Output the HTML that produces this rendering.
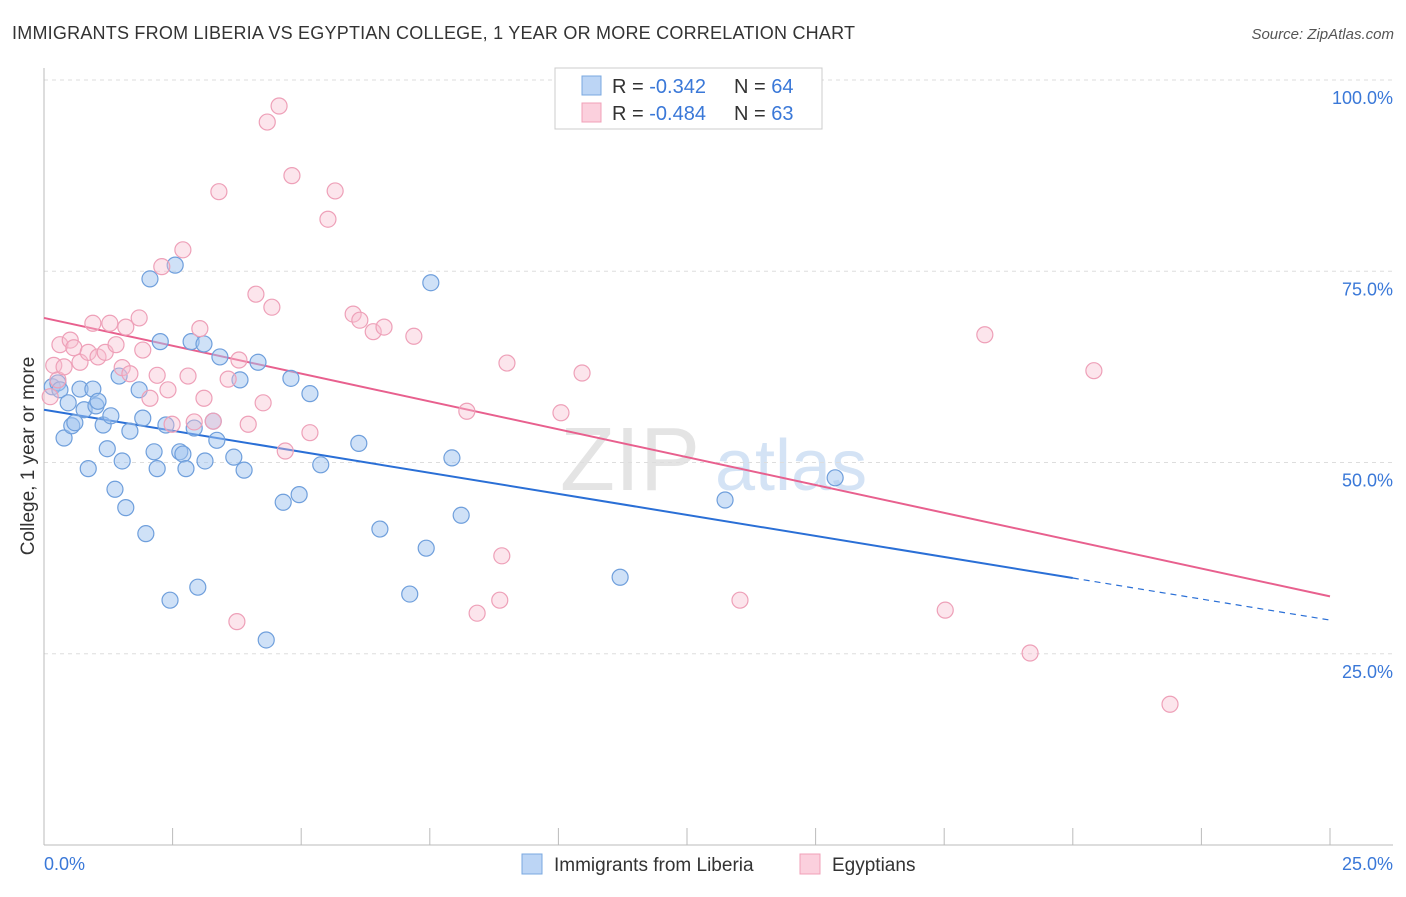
<!DOCTYPE html>
<html><head><meta charset="utf-8"><style>
body{margin:0;background:#fff;font-family:"Liberation Sans",sans-serif;}
svg text{font-family:"Liberation Sans",sans-serif;}
</style></head><body>
<svg id="chart" width="1406" height="892" xmlns="http://www.w3.org/2000/svg">
<text x="12" y="39" font-size="18" fill="#333" textLength="843">IMMIGRANTS FROM LIBERIA VS EGYPTIAN COLLEGE, 1 YEAR OR MORE CORRELATION CHART</text>
<text x="1394" y="39" font-size="15" fill="#555" text-anchor="end" font-style="italic">Source: ZipAtlas.com</text>
<text x="560" y="490" font-size="90" fill="#e4e4e4" font-family="Liberation Serif">ZIP</text>
<text x="715" y="490" font-size="72" fill="#d4e3f5">atlas</text>
<g id="grid"></g><g id="axes"></g><g id="lines"></g><g id="points"></g>
<text x="34" y="456" font-size="19" fill="#333" text-anchor="middle" transform="rotate(-90 34 456)">College, 1 year or more</text>
<g>
<rect x="555" y="68" width="267" height="61" fill="#fff" stroke="#ccc"/>
<rect x="582" y="76" width="19" height="19" fill="#bcd5f5" stroke="#7aa8e0"/>
<text x="612" y="93" font-size="20" fill="#333">R = <tspan fill="#3a78d8">-0.342</tspan></text>
<text x="734" y="93" font-size="20" fill="#333">N = <tspan fill="#3a78d8">64</tspan></text>
<rect x="582" y="103" width="19" height="19" fill="#fbd0dd" stroke="#f0a0b8"/>
<text x="612" y="120" font-size="20" fill="#333">R = <tspan fill="#3a78d8">-0.484</tspan></text>
<text x="734" y="120" font-size="20" fill="#333">N = <tspan fill="#3a78d8">63</tspan></text>
</g>
<g>
<rect x="522" y="854" width="20" height="20" fill="#bcd5f5" stroke="#7aa8e0"/>
<text x="554" y="871" font-size="19" fill="#333">Immigrants from Liberia</text>
<rect x="800" y="854" width="20" height="20" fill="#fbd0dd" stroke="#f0a0b8"/>
<text x="832" y="871" font-size="19" fill="#333">Egyptians</text>
</g>
</svg>
<script>
const blueX=[0.16,0.27,0.31,0.39,0.47,0.54,0.60,0.70,0.78,0.86,0.95,1.01,1.05,1.15,1.23,1.30,1.38,1.46,1.52,1.59,1.67,1.85,1.92,1.98,2.06,2.14,2.20,2.26,2.37,2.45,2.55,2.64,2.70,2.76,2.86,2.92,2.99,3.11,3.13,3.29,3.36,3.42,3.69,3.81,3.89,4.16,4.32,4.65,4.80,4.96,5.17,5.38,6.12,6.53,7.11,7.43,7.52,7.93,8.11,11.2,13.24,15.38];
const blueY=[59.9,60.4,59.5,53.2,57.8,54.8,55.2,59.6,56.9,49.2,59.6,57.4,58.0,54.9,51.8,56.1,46.5,61.3,50.2,44.1,54.1,59.5,55.8,40.7,74.0,51.4,49.2,65.8,54.9,32.0,75.8,51.4,51.1,49.2,65.8,54.5,33.7,65.5,50.2,55.4,52.9,63.8,50.7,60.8,49.0,63.1,26.8,44.8,61.0,45.8,59.0,49.7,52.5,41.3,32.8,38.8,73.5,50.6,43.1,35.0,45.1,48.0];
const pinkX=[0.12,0.19,0.27,0.31,0.39,0.51,0.58,0.70,0.86,0.95,1.05,1.19,1.28,1.40,1.52,1.59,1.67,1.85,1.92,2.06,2.20,2.29,2.41,2.49,2.70,2.80,2.92,3.03,3.11,3.29,3.40,3.58,3.79,3.97,4.12,4.26,4.34,4.43,4.57,4.69,4.82,5.17,5.52,5.66,6.01,6.14,6.40,6.61,7.19,8.22,8.42,8.86,9.00,10.05,10.46,13.53,17.52,18.29,19.17,20.41,21.89,3.75,8.90];
const pinkY=[58.6,62.7,60.8,65.4,62.5,66.0,65.0,63.1,64.4,68.2,63.8,64.4,68.2,65.4,62.4,67.7,61.6,68.9,64.7,58.4,61.4,75.6,59.5,55.0,77.8,61.3,55.3,67.5,58.4,55.4,85.4,60.9,63.4,55.0,72.0,57.8,94.5,70.3,96.6,51.5,87.5,53.9,81.8,85.5,69.4,68.6,67.1,67.7,66.5,56.7,30.3,32.0,63.0,56.5,61.7,32.0,30.7,66.7,25.1,62.0,18.4,29.2,37.8];
const blueFit=[56.9,-1.1];   // intercept, slope per %
const pinkFit=[68.9,-1.456];
const yTicks=[25,50,75,100];
const yTickLabels=["25.0%","50.0%","75.0%","100.0%"];
const xTicks=[0,2.5,5,7.5,10,12.5,15,17.5,20,22.5,25];
const xLabels=["0.0%","25.0%"];

const NS="http://www.w3.org/2000/svg";
const sx=v=>44+v*51.44, sy=v=>845-v*7.65;
function mk(tag,attrs,parent){const e=document.createElementNS(NS,tag);for(const k in attrs)e.setAttribute(k,attrs[k]);document.getElementById(parent).appendChild(e);return e;}
yTicks.forEach((t,i)=>{
  const g=mk('line',{x1:44,x2:1393,y1:sy(t),y2:sy(t),stroke:'#ddd','stroke-dasharray':'4,4'},'grid');
  
  
  const l=mk('text',{x:1393,y:sy(t)+24,'font-size':18,fill:'#3a78d8','text-anchor':'end'},'grid');
  l.textContent=yTickLabels[i];
  
  
});
const ya=mk('line',{x1:44,x2:44,y1:68,y2:845,stroke:'#bbb'},'axes');


const xa=mk('line',{x1:44,x2:1393,y1:845,y2:845,stroke:'#bbb'},'axes');


xTicks.forEach(t=>{
  const e=mk('line',{x1:sx(t),x2:sx(t),y1:828,y2:845,stroke:'#bbb'},'axes');
  
  
});
const xl0=mk('text',{x:44,y:870,'font-size':18,fill:'#3a78d8'},'axes');xl0.textContent=xLabels[0];


const xl1=mk('text',{x:1393,y:870,'font-size':18,fill:'#3a78d8','text-anchor':'end'},'axes');xl1.textContent=xLabels[1];


blueX.forEach((x,i)=>{
  const c=mk('circle',{cx:sx(x),cy:sy(blueY[i]),r:8,fill:'rgba(160,196,240,0.5)',stroke:'#6f9fdc','stroke-width':1.2},'points');
  
  
});
pinkX.forEach((x,i)=>{
  const c=mk('circle',{cx:sx(x),cy:sy(pinkY[i]),r:8,fill:'rgba(248,190,208,0.4)',stroke:'#eea0b8','stroke-width':1.2},'points');
  
  
});
const f=(fit,x)=>fit[0]+fit[1]*x;
const bl=mk('line',{x1:sx(0),y1:sy(f(blueFit,0)),x2:sx(20),y2:sy(f(blueFit,20)),stroke:'#2a6fd6','stroke-width':2},'lines');


const bd=mk('line',{x1:sx(20),y1:sy(f(blueFit,20)),x2:sx(25),y2:sy(f(blueFit,25)),stroke:'#2a6fd6','stroke-width':1.2,'stroke-dasharray':'6,5'},'lines');


const pl=mk('line',{x1:sx(0),y1:sy(f(pinkFit,0)),x2:sx(25),y2:sy(f(pinkFit,25)),stroke:'#e8608e','stroke-width':2},'lines');


</script>
</body></html>
